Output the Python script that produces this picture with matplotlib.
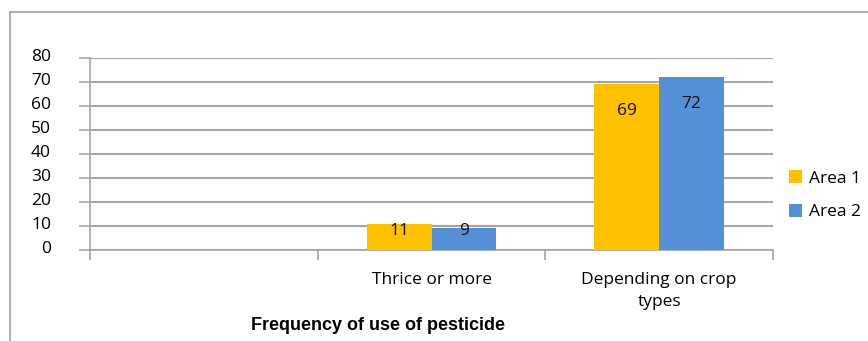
import matplotlib
matplotlib.use("Agg")
import matplotlib.pyplot as plt
from matplotlib.lines import Line2D
import matplotlib.transforms as mtransforms
import numpy as np

categories = ["", "Thrice or more", "Depending on crop\ntypes"]
area1 = [np.nan, 11, 69]
area2 = [np.nan, 9, 72]
series_names = ["Area 1", "Area 2"]
colors = ["#FFC000", "#5590D6"]
yticks = [0, 10, 20, 30, 40, 50, 60, 70, 80]

W, H = 868, 341
fig = plt.figure(figsize=(W / 100, H / 100), dpi=100)
ax = fig.add_axes([90 / W, 1 - 250 / H, (773 - 90) / W, (250 - 58) / H])

font = "Open Sans"
grid_c = "#a6a6a6"
fs = 12.5

x = np.arange(len(categories)) + 0.5
bw = 65 / 227.7
for vals, name, c, off in [(area1, series_names[0], colors[0], -bw / 2),
                           (area2, series_names[1], colors[1], bw / 2)]:
    ax.bar(x + off, vals, width=bw, color=c, label=name, zorder=3)
    for xi, v in zip(x + off, vals):
        if np.isnan(v):
            continue
        ly = v - 11 if v - 11 > 8 else 7.9
        ax.text(xi, ly, f"{v:g}", ha="center", va="center", fontsize=fs,
                family=font, color="#111111", zorder=4)

ax.set_xlim(0, 3)
ax.set_ylim(0, 80)
ax.set_yticks(yticks)
ax.set_yticklabels([str(t) for t in yticks], family=font, fontsize=fs)
ax.yaxis.grid(True, color=grid_c, linewidth=1.5, zorder=0)
ax.tick_params(axis="y", length=8, color=grid_c, width=1.2, pad=20)
shift = mtransforms.ScaledTranslation(0, 2.5 / 72, fig.dpi_scale_trans)
for lbl in ax.get_yticklabels():
    lbl.set_transform(lbl.get_transform() + shift)

ax.set_xticks([0, 1, 2, 3])
ax.set_xticklabels([])
ax.set_xticks(x, minor=True)
ax.set_xticklabels(categories, minor=True, family=font, fontsize=fs,
                   linespacing=1.45)
ax.tick_params(axis="x", which="major", length=7, color=grid_c, width=1.2)
ax.tick_params(axis="x", which="minor", length=0, pad=16)

for s in ["top", "right"]:
    ax.spines[s].set_visible(False)
for s in ["left", "bottom"]:
    ax.spines[s].set_color(grid_c)
    ax.spines[s].set_linewidth(1.2)

leg = ax.legend(loc="center left", bbox_to_anchor=(1.0, 0.285), frameon=False,
                prop={"family": font, "size": fs}, handlelength=0.75,
                handleheight=0.75, handletextpad=0.45, labelspacing=1.0,
                borderaxespad=0.5)

fig.text(378 / W, 1 - 325 / H, "Frequency of use of pesticide", ha="center",
         va="center", family="Liberation Sans", fontweight="bold", fontsize=13)

# chart border
fig.add_artist(Line2D([10 / W, 1], [1 - 12 / H, 1 - 12 / H], color="#a0a0a0",
                      linewidth=1.2, transform=fig.transFigure))
fig.add_artist(Line2D([10 / W, 10 / W], [0, 1 - 12 / H], color="#a0a0a0",
                      linewidth=1.2, transform=fig.transFigure))

fig.savefig("out.png", dpi=100)
